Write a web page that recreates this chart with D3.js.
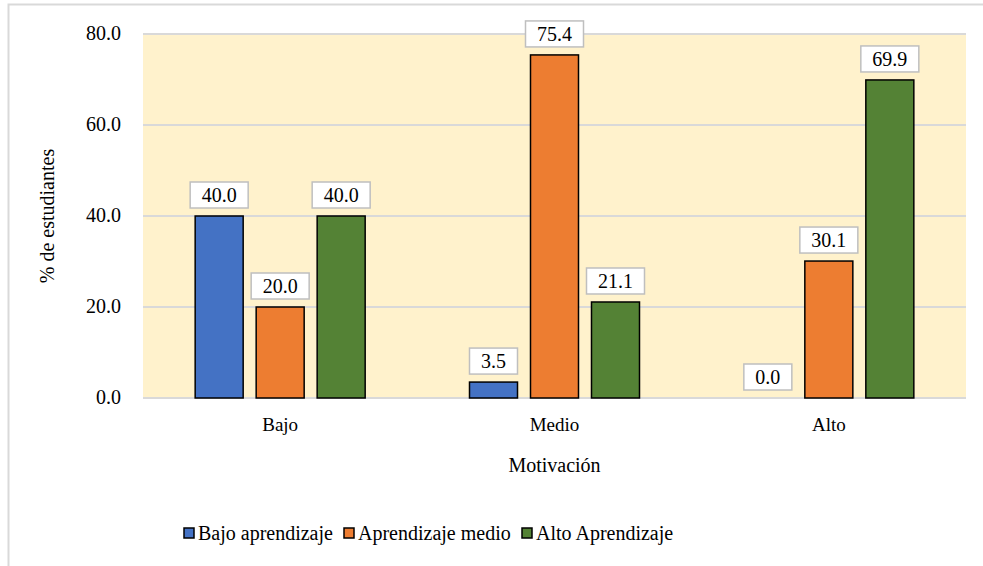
<!DOCTYPE html>
<html><head><meta charset="utf-8">
<script src="https://cdn.jsdelivr.net/npm/d3@7"></script>
</head><body style="margin:0"><svg id="c" width="983" height="566" style="display:block" font-family="serif"></svg>
<script>
const categories = ["Bajo", "Medio", "Alto"];
const seriesNames = ["Bajo aprendizaje", "Aprendizaje medio", "Alto Aprendizaje"];
const bajoAprendizaje = [40.0, 3.5, 0.0];
const aprendizajeMedio = [20.0, 75.4, 30.1];
const altoAprendizaje = [40.0, 21.1, 69.9];
const yTicks = [0, 20, 40, 60, 80];
const colors = ["#4472C4", "#ED7D31", "#548235"];

const FONT = "Liberation Serif, Times New Roman, serif";
const series = [bajoAprendizaje, aprendizajeMedio, altoAprendizaje];
const svg = d3.select("#c");
const L = 143, R = 966, T = 34, B = 398;

svg.append("rect").attr("x", 8.5).attr("y", 4.5).attr("width", 1000).attr("height", 1000)
  .attr("fill", "#fff").attr("stroke", "#d9d9d9").attr("stroke-width", 2);

const x = d3.scaleBand().domain(categories).range([L, R]);
const y = d3.scaleLinear().domain([0, 80]).range([B, T]);
const xs = d3.scaleBand().domain(d3.range(3)).range([0, 170]).paddingInner(0.213);

svg.append("rect").attr("x", L).attr("y", T).attr("width", R - L).attr("height", B - T).attr("fill", "#FFF2CC");

svg.append("g").selectAll("line").data(yTicks).join("line")
  .attr("x1", L).attr("x2", R).attr("y1", d => y(d)).attr("y2", d => y(d))
  .attr("stroke", "#d9d9d9").attr("stroke-width", 2);

svg.append("g").selectAll("text").data(yTicks).join("text")
  .attr("x", L - 22).attr("y", d => y(d)).attr("dy", "0.32em").attr("text-anchor", "end")
  .attr("font-family", FONT).attr("font-size", 20).text(d3.format(".1f"));

svg.append("g").selectAll("text").data(categories).join("text")
  .attr("x", c => x(c) + x.bandwidth() / 2).attr("y", B + 33).attr("text-anchor", "middle")
  .attr("font-family", FONT).attr("font-size", 19).text(c => c);

const groups = svg.append("g").selectAll("g").data(categories).join("g")
  .attr("transform", c => `translate(${x(c) + x.bandwidth() / 2 - 85},0)`);

groups.each(function(c, ci) {
  const g = d3.select(this);
  series.forEach((s, si) => {
    const v = s[ci];
    const bx = xs(si), bw = xs.bandwidth();
    if (v > 0) {
      g.append("rect").attr("x", bx).attr("y", y(v)).attr("width", bw).attr("height", y(0) - y(v))
        .attr("fill", colors[si]).attr("stroke", "#000").attr("stroke-width", 1.5);
    }
    const cx = bx + bw / 2;
    const bh = 26, bwid = v >= 10 ? 58 : 48;
    const by = y(v) - 8 - bh;
    g.append("rect").attr("x", cx - bwid / 2).attr("y", by).attr("width", bwid).attr("height", bh)
      .attr("fill", "#fff").attr("stroke", "#bfbfbf").attr("stroke-width", 1.5);
    g.append("text").attr("x", cx).attr("y", by + bh / 2).attr("dy", "0.35em")
      .attr("text-anchor", "middle").attr("font-size", 20).attr("font-family", FONT).text(v.toFixed(1));
  });
});

svg.append("text").attr("transform", `translate(54,${(T + B) / 2}) rotate(-90)`)
  .attr("text-anchor", "middle").attr("font-size", 20).attr("font-family", FONT).text("% de estudiantes");

svg.append("text").attr("x", (L + R) / 2).attr("y", 472).attr("text-anchor", "middle")
  .attr("font-size", 20).attr("font-family", FONT).text("Motivación");

const legX = [184, 344, 522];
const lg = svg.append("g").selectAll("g").data(seriesNames).join("g")
  .attr("transform", (d, i) => `translate(${legX[i]},533)`);
lg.append("rect").attr("x", 0).attr("y", -5).attr("width", 10).attr("height", 10)
  .attr("fill", (d, i) => colors[i]).attr("stroke", "#000").attr("stroke-width", 1.5);
lg.append("text").attr("x", 14).attr("y", 0).attr("dy", "0.35em").attr("font-size", 20)
  .attr("font-family", FONT).text(d => d);
</script></body></html>
